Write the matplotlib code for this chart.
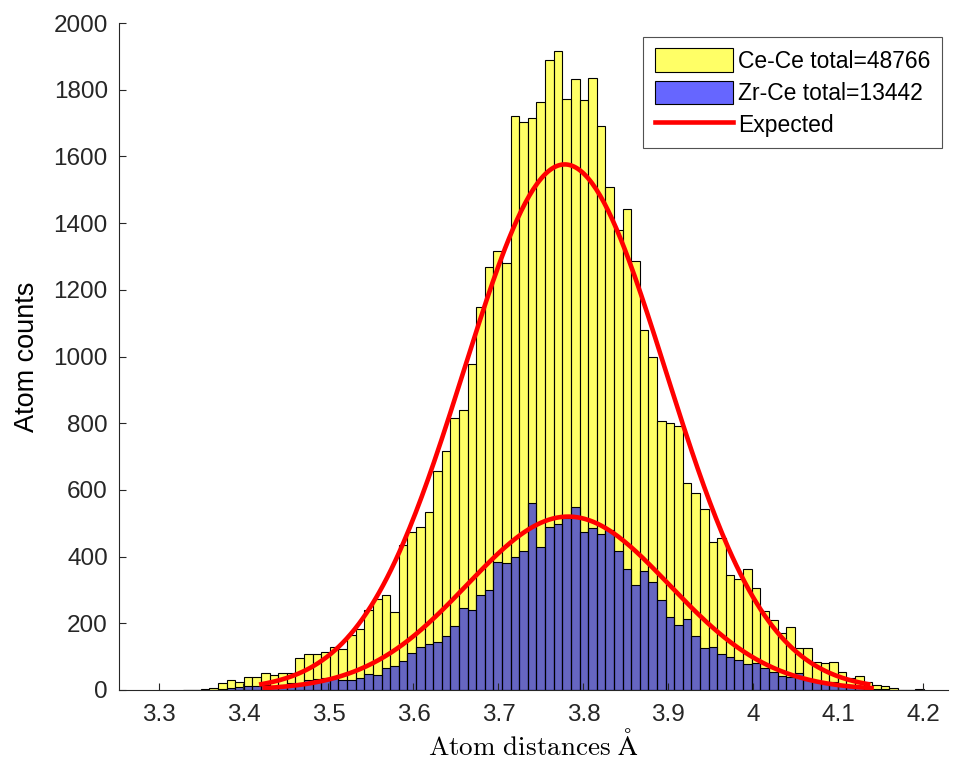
import numpy as np
import matplotlib.pyplot as plt

# ------------------------------------------------------------
# Data
# ------------------------------------------------------------
bin_start = 3.3294     # left edge of first bin (Angstrom)
bin_width = 0.01013    # histogram bin width

ce_ce_counts = [
    1, 0, 2, 5, 21, 30, 24, 38, 38, 50,
    46, 50, 52, 95, 108, 108, 114, 130, 124, 165,
    182, 240, 272, 285, 233, 435, 475, 490, 533, 657,
    717, 815, 840, 977, 1149, 1267, 1317, 1279, 1721, 1703,
    1714, 1762, 1889, 1917, 1771, 1832, 1770, 1834, 1692, 1509,
    1379, 1442, 1286, 1079, 999, 808, 800, 793, 622, 590,
    542, 445, 455, 345, 332, 362, 305, 238, 210, 170,
    188, 125, 125, 85, 82, 85, 55, 35, 42, 25,
    15, 12, 5, 1, 1, 3,
]

zr_ce_counts = [
    0, 0, 0, 1, 4, 5, 8, 11, 13, 14,
    12, 16, 20, 22, 29, 32, 35, 36, 30, 29,
    36, 48, 45, 65, 72, 87, 110, 130, 137, 143,
    162, 192, 247, 240, 285, 299, 385, 380, 398, 417,
    560, 430, 488, 498, 515, 550, 474, 485, 467, 480,
    417, 362, 315, 358, 325, 270, 219, 195, 212, 163,
    126, 128, 108, 98, 90, 77, 82, 65, 55, 42,
    38, 50, 30, 25, 20, 25, 15, 10, 8, 5,
    3, 2, 0, 0, 0, 0,
]

ce_ce_total = 48766
zr_ce_total = 13442

# Expected (normal) curves: peak height, mean, sigma
expected_peaks = [1576, 520]
expected_means = [3.778, 3.782]
expected_sigma = 0.119

# ------------------------------------------------------------
# Style
# ------------------------------------------------------------
plt.rcParams.update({
    'font.family': ['Liberation Sans', 'DejaVu Sans'],
    'mathtext.fontset': 'cm',
    'axes.edgecolor': '#262626',
    'xtick.color': '#262626',
    'ytick.color': '#262626',
    'xtick.labelcolor': '#262626',
    'ytick.labelcolor': '#262626',
})

fig = plt.figure(figsize=(9.58, 7.67), dpi=100)
ax = fig.add_axes([0.1242, 0.1004, 0.8654, 0.8696])

n_bins = len(ce_ce_counts)
left_edges = bin_start + bin_width * np.arange(n_bins)

h_ce = ax.bar(left_edges, ce_ce_counts, width=bin_width, align='edge',
              facecolor=(1, 1, 0, 0.6), edgecolor='black', linewidth=0.8,
              label=f'Ce-Ce total={ce_ce_total}')
h_zr = ax.bar(left_edges, zr_ce_counts, width=bin_width, align='edge',
              facecolor=(0, 0, 1, 0.6), edgecolor='black', linewidth=0.8,
              label=f'Zr-Ce total={zr_ce_total}')

h_exp = None
for peak, mu in zip(expected_peaks, expected_means):
    xs = np.linspace(mu - 3 * expected_sigma, mu + 3 * expected_sigma, 300)
    ys = peak * np.exp(-0.5 * ((xs - mu) / expected_sigma) ** 2)
    line, = ax.plot(xs, ys, color='red', linewidth=3.3)
    if h_exp is None:
        h_exp = line

ax.set_xlim(3.2535, 4.229)
ax.set_ylim(0, 2000)
ax.set_xticks(np.arange(3.3, 4.21, 0.1))
ax.set_xticklabels(['3.3', '3.4', '3.5', '3.6', '3.7', '3.8', '3.9', '4', '4.1', '4.2'])
ax.set_yticks(np.arange(0, 2001, 200))

ax.spines['top'].set_visible(False)
ax.spines['right'].set_visible(False)
ax.tick_params(direction='in', length=5, width=0.8, labelsize=17.5)
ax.tick_params(axis='x', pad=10)
ax.tick_params(axis='y', pad=8)

ax.set_ylabel('Atom counts', fontsize=19.5, labelpad=10)
ax.set_xlabel(r'$\mathrm{Atom\ distances\ \AA}$', fontsize=19.5, labelpad=3)

leg = ax.legend([h_ce, h_zr, h_exp],
                [f'Ce-Ce total={ce_ce_total}', f'Zr-Ce total={zr_ce_total}', 'Expected'],
                loc='upper right', fontsize=16.5, frameon=True, fancybox=False,
                edgecolor='#262626', handlelength=3.4, handleheight=1.2,
                borderpad=0.5, labelspacing=0.33, handletextpad=0.25,
                borderaxespad=0, bbox_to_anchor=(0.9928, 0.979))
leg.get_frame().set_linewidth(0.8)

fig.savefig('out.png', dpi=100)
